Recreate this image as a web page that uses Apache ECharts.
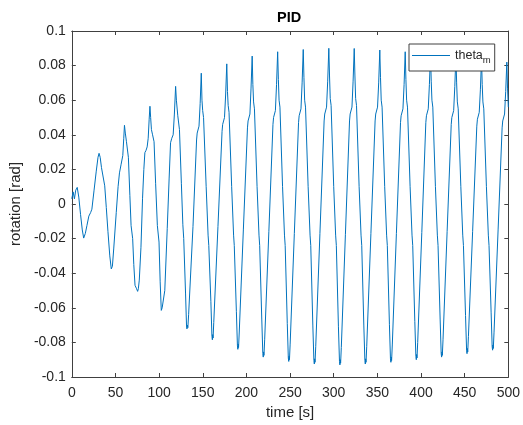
<!DOCTYPE html>
<html>
<head>
<meta charset="utf-8">
<script src="https://cdn.jsdelivr.net/npm/echarts@6/dist/echarts.min.js"></script>
<style>
html,body{margin:0;padding:0;background:#fff;}
#c{width:523px;height:425px;}
</style>
</head>
<body>
<div id="c"></div>
<script>
// ---- data ----
var chartTitle = 'PID';
var xName = 'time [s]';
var yName = 'rotation [rad]';
var seriesName = 'theta_m';
var xTicks = [0, 50, 100, 150, 200, 250, 300, 350, 400, 450, 500];
var yTicks = [-0.1, -0.08, -0.06, -0.04, -0.02, 0, 0.02, 0.04, 0.06, 0.08, 0.1];

// [time s, theta rad] — start-up transient
var transientPts = [
 [0,0.003],[1.5,0.007],[3.0,0.003],[4.5,0.008],[6.2,0.0096],[8.0,0.004],[10.0,-0.006],[12.0,-0.015],
 [13.6,-0.0197],[15.5,-0.017],[17.3,-0.0125],[19.5,-0.007],[21.5,-0.005],[23.0,-0.003],[25.5,0.008],
 [28.0,0.019],[30.0,0.027],[31.2,0.0293],[32.5,0.027],[34.0,0.021],[37.7,0.0105],[39.5,-0.002],
 [41.4,-0.016],[43.5,-0.030],[45.2,-0.0375],[46.5,-0.036],[48.0,-0.026],[50.9,-0.005],[53.0,0.010],
 [54.6,0.018],[56.5,0.023],[58.4,0.028],[59.5,0.038],[60.3,0.0455],[61.3,0.041],[62.6,0.036],
 [64.8,0.027],[66.5,0.005],[67.9,-0.0125],[69.7,-0.020],[71.0,-0.035],[72.4,-0.047],[73.5,-0.048],
 [74.2,-0.049],[75.4,-0.0505],[76.2,-0.049],[77.3,-0.044],[79.2,-0.025],[81.0,0.003],[82.5,0.020],
 [83.7,0.0297],[85.0,0.031],[86.3,0.033],[87.5,0.038],[88.6,0.049],[89.5,0.0565],[90.3,0.050],
 [91.2,0.043],[92.5,0.040],[94.2,0.036],[96.0,0.012],[98.0,-0.0125],[99.9,-0.022],[101.2,-0.045],
 [102.5,-0.0615],[103.5,-0.060],[104.4,-0.0605],[105.3,-0.060],[106.5,-0.050],[109.3,-0.0143],
 [111.5,0.015],[113.1,0.0354],[114.5,0.038],[116.1,0.040],[117.5,0.052],[118.9,0.068],[119.8,0.060],
 [121.4,0.051],[123.3,0.043],[125.5,0.012],[127.2,-0.012],[128.2,-0.020],[130.3,-0.052],
 [131.4,-0.0705],[131.9,-0.0722],[132.4,-0.0700],[132.9,-0.0715],[133.8,-0.064],[138.8,-0.013]
];
// growing / steady oscillation
var oscillationPts = [
 [142.9,0.037],[143.6,0.041],[144.7,0.042],[145.7,0.045],[147.0,0.058],[148.3,0.0756],[149.1,0.060],
 [149.9,0.054],[150.9,0.050],[153.9,0.010],[156.1,-0.018],[156.9,-0.024],[159.3,-0.0565],[160.5,-0.0765],
 [161.0,-0.0785],[161.4,-0.0755],[161.8,-0.0775],[162.6,-0.0685],[167.4,-0.013],
 [172.1,0.042],[172.8,0.046],[173.9,0.047],[174.9,0.050],[176.2,0.063],[177.5,0.081],[178.3,0.065],
 [179.1,0.057],[180.1,0.053],[183.1,0.010],[185.3,-0.018],[186.1,-0.024],[188.5,-0.062],[189.7,-0.082],
 [190.2,-0.084],[190.6,-0.081],[191.0,-0.083],[191.8,-0.074],[196.5,-0.015],
 [201.2,0.044],[201.9,0.048],[203.0,0.049],[204.0,0.052],[205.3,0.067],[206.6,0.0855],[207.4,0.069],
 [208.2,0.059],[209.2,0.055],[212.2,0.010],[214.4,-0.018],[215.2,-0.024],[217.6,-0.0665],[218.8,-0.0865],
 [219.3,-0.0885],[219.7,-0.0855],[220.1,-0.0875],[220.9,-0.0785],[225.7,-0.016],
 [230.4,0.046],[231.1,0.050],[232.2,0.051],[233.2,0.054],[234.5,0.069],[235.8,0.088],[236.6,0.072],
 [237.4,0.060],[238.4,0.056],[241.4,0.010],[243.6,-0.018],[244.4,-0.024],[246.8,-0.069],[248.0,-0.089],
 [248.5,-0.091],[248.9,-0.088],[249.3,-0.090],[250.1,-0.081],[254.9,-0.017],
 [259.7,0.047],[260.4,0.051],[261.5,0.052],[262.5,0.055],[263.8,0.070],[265.1,0.0893],[265.9,0.073],
 [266.7,0.060],[267.7,0.056],[270.7,0.010],[272.9,-0.018],[273.7,-0.024],[276.1,-0.0705],[277.3,-0.0905],
 [277.8,-0.0925],[278.2,-0.0895],[278.6,-0.0915],[279.4,-0.0825],[284.2,-0.017],
 [289.0,0.048],[289.7,0.052],[290.8,0.053],[291.8,0.056],[293.1,0.071],[294.4,0.090],[295.2,0.074],
 [296.0,0.061],[297.0,0.057],[300.0,0.010],[302.2,-0.018],[303.0,-0.024],[305.4,-0.071],[306.6,-0.091],
 [307.1,-0.093],[307.5,-0.090],[307.9,-0.092],[308.7,-0.083],[313.4,-0.0175],
 [318.1,0.048],[318.8,0.052],[319.9,0.053],[320.9,0.056],[322.2,0.071],[323.5,0.0899],[324.3,0.074],
 [325.1,0.061],[326.1,0.057],[329.1,0.010],[331.3,-0.018],[332.1,-0.024],[334.5,-0.0705],[335.7,-0.0905],
 [336.2,-0.0925],[336.6,-0.0895],[337.0,-0.0915],[337.8,-0.0825],[342.6,-0.017],
 [347.4,0.048],[348.1,0.052],[349.2,0.053],[350.2,0.056],[351.5,0.070],[352.8,0.089],[353.6,0.073],
 [354.4,0.060],[355.4,0.056],[358.4,0.010],[360.6,-0.018],[361.4,-0.024],[363.8,-0.0695],[365.0,-0.0895],
 [365.5,-0.0915],[365.9,-0.0885],[366.3,-0.0905],[367.1,-0.0815],[371.8,-0.017],
 [376.5,0.047],[377.2,0.051],[378.3,0.052],[379.3,0.055],[380.6,0.069],[381.9,0.088],[382.7,0.072],
 [383.5,0.060],[384.5,0.056],[387.5,0.010],[389.7,-0.018],[390.5,-0.024],[392.9,-0.068],[394.1,-0.088],
 [394.6,-0.090],[395.0,-0.087],[395.4,-0.089],[396.2,-0.080],[400.9,-0.0165],
 [405.5,0.047],[406.2,0.051],[407.3,0.052],[408.3,0.055],[409.6,0.069],[410.9,0.087],[411.7,0.071],
 [412.5,0.060],[413.5,0.056],[416.5,0.010],[418.7,-0.018],[419.5,-0.024],[421.9,-0.0665],[423.1,-0.0865],
 [423.6,-0.0885],[424.0,-0.0855],[424.4,-0.0875],[425.2,-0.0785],[429.9,-0.016],
 [434.6,0.046],[435.3,0.050],[436.4,0.051],[437.4,0.054],[438.7,0.068],[440.0,0.086],[440.8,0.070],
 [441.6,0.059],[442.6,0.055],[445.6,0.010],[447.8,-0.018],[448.6,-0.024],[451.0,-0.0645],[452.2,-0.0845],
 [452.7,-0.0865],[453.1,-0.0835],[453.5,-0.0855],[454.3,-0.0765],[459.1,-0.016],
 [463.9,0.045],[464.6,0.049],[465.7,0.050],[466.7,0.053],[468.0,0.066],[469.3,0.084],[470.1,0.069],
 [470.9,0.059],[471.9,0.055],[474.9,0.010],[477.1,-0.018],[477.9,-0.024],[480.3,-0.0625],[481.5,-0.0825],
 [482.0,-0.0845],[482.4,-0.0815],[482.8,-0.0835],[483.6,-0.0745],[488.3,-0.015],
 [492.9,0.044],[493.6,0.048],[494.7,0.049],[495.7,0.052],[497.0,0.065],[498.3,0.082],[499.1,0.067],
 [500.0,0.056]
];

// ---- chart ----
var thetaSeries = transientPts.concat(oscillationPts);
var axisCol = '#404040';
var txtCol = '#262626';
var font = 'Liberation Sans, Arial, Helvetica, sans-serif';
function fmtY(v){ return String(parseFloat(v.toFixed(2))); }

var chart = echarts.init(document.getElementById('c'), null, {renderer:'canvas'});
var common = {
  type:'value', min:xTicks[0], max:xTicks[xTicks.length-1], interval:xTicks[1]-xTicks[0],
  splitLine:{show:false},
  axisLine:{show:true, onZero:false, lineStyle:{color:axisCol, width:1}},
  axisTick:{show:true, inside:true, length:4, lineStyle:{color:axisCol}}
};
var commonY = {
  type:'value', min:yTicks[0], max:yTicks[yTicks.length-1], interval:0.02,
  splitLine:{show:false},
  axisLine:{show:true, onZero:false, lineStyle:{color:axisCol, width:1}},
  axisTick:{show:true, inside:true, length:4, lineStyle:{color:axisCol}}
};
chart.setOption({
  animation:false,
  backgroundColor:'#ffffff',
  title:{
    text:chartTitle, left:277, top:10, padding:0,
    textStyle:{fontFamily:font, fontSize:14.5, fontWeight:'bold', color:'#000'}
  },
  legend:{
    left:409, top:44, padding:[5,4,6,3],
    backgroundColor:'#fff', borderColor:axisCol, borderWidth:1, borderRadius:0,
    itemWidth:38, itemHeight:14,
    data:[{name:seriesName, icon:'path://M0,0L38,0L38,1L0,1Z'}],
    formatter:function(){ return '{a|theta}{b|m}'; },
    textStyle:{
      fontFamily:font, color:txtCol,
      rich:{
        a:{fontFamily:font, fontSize:12.5, color:txtCol},
        b:{fontFamily:font, fontSize:9.5, color:txtCol, padding:[9,0,0,0]}
      }
    }
  },
  grid:{left:67, top:31, width:442, height:348, containLabel:false},
  xAxis:[
    Object.assign({}, common, {
      position:'bottom', name:xName, nameLocation:'middle', nameGap:28,
      nameTextStyle:{fontFamily:font, fontSize:15, color:txtCol},
      axisLabel:{show:true, margin:9, fontFamily:font, fontSize:14, color:txtCol}
    }),
    Object.assign({}, common, {position:'top', axisLabel:{show:false}})
  ],
  yAxis:[
    Object.assign({}, commonY, {
      position:'left', name:yName, nameLocation:'middle', nameGap:41,
      nameTextStyle:{fontFamily:font, fontSize:15, color:txtCol},
      axisLabel:{show:true, margin:6, fontFamily:font, fontSize:14, color:txtCol, formatter:fmtY}
    }),
    Object.assign({}, commonY, {position:'right', axisLabel:{show:false}})
  ],
  series:[{
    name:seriesName, type:'line', data:thetaSeries, showSymbol:false, symbol:'none',
    xAxisIndex:0, yAxisIndex:0,
    lineStyle:{color:'#0072BD', width:1}, itemStyle:{color:'#0072BD'},
    z:1
  }]
});
</script>
</body>
</html>
